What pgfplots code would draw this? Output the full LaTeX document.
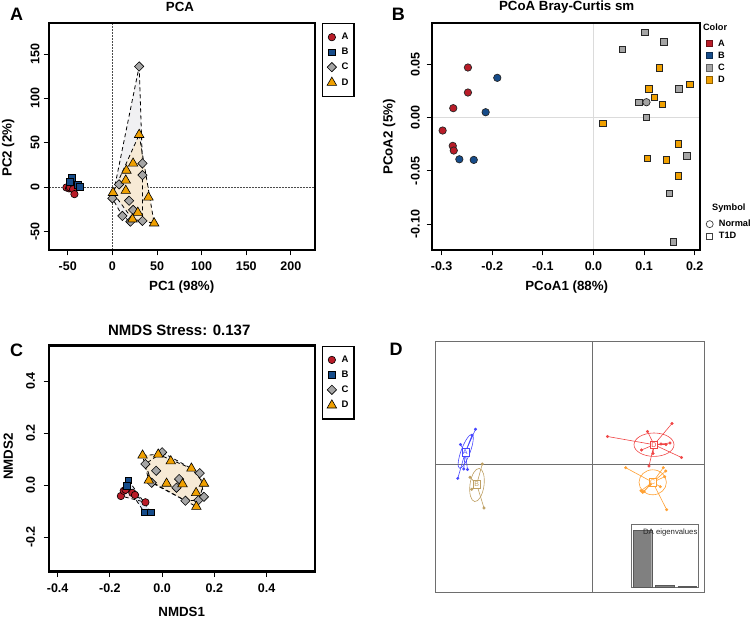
\documentclass[border=0pt]{standalone}
\usepackage{pgfplots}
\pgfplotsset{compat=1.18}
\usepackage{fontspec}
\setmainfont{Liberation Sans}
\definecolor{cA}{RGB}{185,28,40}
\definecolor{cB}{RGB}{22,76,138}
\definecolor{cC}{RGB}{165,165,165}
\definecolor{cD}{RGB}{240,160,0}
\definecolor{hC}{RGB}{240,240,242}
\definecolor{hD}{RGB}{248,234,210}
\definecolor{hA}{RGB}{248,228,228}
\definecolor{hB}{RGB}{225,232,242}
\definecolor{dA}{RGB}{70,70,255}
\definecolor{dB}{RGB}{190,160,100}
\definecolor{dD}{RGB}{240,70,70}
\definecolor{dC}{RGB}{255,160,50}
\definecolor{frm}{RGB}{110,110,110}
\newcommand\fs[1]{\fontsize{#1}{#1}\selectfont\bfseries}
\pgfplotsset{
 rax/.style={scale only axis, anchor=south west, clip=false,
   axis line style={draw=none},
   tick align=outside, tick pos=left, major tick length=5.5pt,
   tick style={black, line width=0.9pt},
   xticklabel style={font=\fs{12.5}, anchor=center, inner sep=0pt},
   yticklabel style={font=\fs{12.5}, rotate=90, anchor=center, inner sep=0pt},
   xticklabel shift=11.2pt,
   legend image code/.code={\draw[#1] plot coordinates {(5pt,0pt)};},
 },
 mA/.style={only marks, mark=*, mark size=3.7pt, mark options={fill=cA, draw=black, line width=0.6pt}},
 mB/.style={only marks, mark=square*, mark size=3.3pt, mark options={fill=cB, draw=black, line width=0.6pt}},
 mC/.style={only marks, mark=square*, mark size=3.3pt, mark options={rotate=45, fill=cC, draw=black, line width=0.6pt}},
 mD/.style={only marks, mark=triangle*, mark size=5.5pt, mark options={fill=cD, draw=black, line width=0.6pt}},
 hull/.style={black, line width=0.8pt, dash pattern=on 4pt off 3pt, forget plot},
 boxleg/.style={legend style={at={(1,1)}, anchor=north west, xshift=7pt, draw=black, line width=1.2pt, fill=white, font=\fs{9.5}, inner xsep=4.5pt, inner ysep=8.6pt, row sep=4.9pt, column sep=4pt, nodes={inner sep=1pt}}, legend cell align=left},
 colleg/.style={legend image code/.code={\draw[##1] plot coordinates {(3pt,0pt)};},
  legend style={at={(1,1)}, anchor=north west, xshift=6pt, draw=none, fill=none, font=\fs{9.2}, inner sep=0pt, row sep=3.2pt, column sep=5.2pt, nodes={inner sep=0.5pt}},
  legend cell align=left},
 sqk/.style={only marks, mark=square*, mark size=3.1pt, mark options={fill=#1, draw=#1!60!black, line width=0.7pt}},
}
\begin{document}
\begin{tikzpicture}[x=1pt,y=1pt]
\path[use as bounding box] (0,0) rectangle (753,618);

%%%%%%%%%%%%%%%% Panel A
\begin{axis}[rax, boxleg, at={(49pt,368pt)}, width=266pt, height=227pt,
  xmin=-71, xmax=227, ymin=-71, ymax=185,
  xtick={-50,0,50,100,150,200}, xticklabels={-50,0,50,100,150,200},
  ytick={-50,0,50,100,150}, yticklabels={-50,0,50,100,150},
  yticklabel shift=8.5pt]
\draw[densely dotted, black!70, line width=0.5pt] (axis cs:0,-71) -- (axis cs:0,185);
\draw[densely dotted, black!70, line width=0.5pt] (axis cs:-71,0) -- (axis cs:227,0);
\addplot[draw=none, fill=hA, forget plot] coordinates {(-51.5,-0.5)(-47.5,-0.5)(-44,-2.5)(-42.5,-8)(-51.5,-0.5)};
\addplot[draw=none, fill=hB, forget plot] coordinates {(-45.3,10.5)(-36.7,0.4)(-47.9,6)(-45.3,10.5)};
\addplot[draw=none, fill=hC, forget plot] coordinates {(30,136)(33.7,26.6)(33.7,-38.2)(20.2,-39)(11.2,-32.6)(0,-12.7)(30,136)};
\addplot[draw=none, fill=hD, fill opacity=0.9, forget plot] coordinates {(30,59)(46.8,-40.8)(22.5,-36.3)(0.7,-6.4)(30,59)};
\addplot[hull] coordinates {(30,136)(33.7,26.6)(33.7,-38.2)(20.2,-39)(11.2,-32.6)(0,-12.7)(30,136)};
\addplot[hull] coordinates {(30,59)(46.8,-40.8)(22.5,-36.3)(0.7,-6.4)(30,59)};
\addplot[mA] coordinates {(-51.5,-0.5)(-48.5,-1.5)(-45.5,-1.5)(-47.5,-0.5)(-44,-2.5)(-42.5,-8)};
\addlegendentry{A}
\addplot[mB] coordinates {(-45.3,10.5)(-47.9,6)(-38.5,2.2)(-36.7,0.4)};
\addlegendentry{B}
\addplot[mC] coordinates {(30,136)(33.7,26.6)(33.7,13.5)(7.5,3)(0,-12.7)(18.7,-15.4)(23.2,-25.8)(11.2,-32.6)(20.2,-39)(33.7,-38.2)};
\addlegendentry{C}
\addplot[mD] coordinates {(30,59)(23.2,26.6)(15.7,18.7)(15,7.5)(15,-4.1)(0.7,-6.4)(40.4,-11.6)(28.5,-28.8)(22.5,-36.3)(46.8,-40.8)};
\addlegendentry{D}
\draw[line width=2.6pt] (rel axis cs:0,0) rectangle (rel axis cs:1,1);
\end{axis}
\node[font=\fs{13.3}] at (180,610.7) {PCA};
\node[font=\fs{18}] at (16.7,604) {A};
\node[font=\fs{13.3}] at (181.7,331.3) {PC1 (98\%)};
\node[font=\fs{13.3}, rotate=90] at (8.3,470) {PC2 (2\%)};

%%%%%%%%%%%%%%%% Panel B
\begin{axis}[rax, colleg, at={(432pt,368pt)}, width=268pt, height=227pt,
  xmin=-0.319, xmax=0.2105, ymin=-0.1244, ymax=0.0888,
  xtick={-0.3,-0.2,-0.1,0,0.1,0.2}, xticklabels={-0.3,-0.2,-0.1,0.0,0.1,0.2},
  ytick={-0.1,-0.05,0,0.05}, yticklabels={-0.10,-0.05,0.00,0.05},
  yticklabel shift=11.2pt]
\draw[black!14, line width=1.2pt] (axis cs:0,-0.1244) -- (axis cs:0,0.0888);
\draw[black!14, line width=1.2pt] (axis cs:-0.319,0) -- (axis cs:0.2105,0);
\addlegendimage{empty legend}
\addlegendentry{\raisebox{3.7pt}{\hspace*{-15pt}Color}}
\addlegendimage{sqk=cA}
\addlegendentry{A}
\addlegendimage{sqk=cB}
\addlegendentry{B}
\addlegendimage{sqk=cC}
\addlegendentry{C}
\addlegendimage{sqk=cD}
\addlegendentry{D}
\addplot[forget plot, only marks, mark=*, mark size=3.7pt, mark options={fill=cA, draw=black!85, line width=0.7pt}] coordinates {(-0.248,0.047)(-0.248,0.0235)(-0.277,0.0088)(-0.298,-0.0122)(-0.278,-0.0266)(-0.276,-0.031)};
\addplot[forget plot, only marks, mark=*, mark size=3.7pt, mark options={fill=cB, draw=black!85, line width=0.7pt}] coordinates {(-0.190,0.0373)(-0.213,0.005)(-0.265,-0.0392)(-0.2365,-0.0398)};
\addplot[forget plot, only marks, mark=square*, mark size=3.3pt, mark options={fill=cC, draw=black!85, line width=0.7pt}] coordinates {(0.102,0.0802)(0.139,0.0711)(0.0567,0.0642)(0.1686,0.0269)(0.0896,0.0144)(0.1047,0.0)(0.185,-0.036)(0.150,-0.0711)(0.158,-0.1165)};
\addplot[forget plot, only marks, mark=square*, mark size=3.3pt, mark options={fill=cD, draw=black!85, line width=0.7pt}] coordinates {(0.130,0.0464)(0.190,0.0313)(0.110,0.0269)(0.1206,0.0188)(0.136,0.0125)(0.0184,-0.0053)(0.168,-0.0247)(0.1067,-0.0382)(0.1443,-0.0398)(0.168,-0.0548)};
\addplot[forget plot, only marks, mark=*, mark size=3.7pt, mark options={fill=cC, draw=black!85, line width=0.7pt}] coordinates {(0.1047,0.0144)};
\draw[line width=2.6pt] (rel axis cs:0,0) rectangle (rel axis cs:1,1);
\end{axis}
\begin{axis}[colleg, scale only axis, anchor=south west, at={(432pt,368pt)}, width=268pt, height=227pt,
  hide axis, xmin=0, xmax=1, ymin=0, ymax=1,
  legend style={yshift=-180.5pt}]
\addlegendimage{empty legend}
\addlegendentry{\raisebox{3.5pt}{\hspace*{-6.7pt}Symbol}}
\addlegendimage{only marks, mark=o, mark size=3.5pt, mark options={draw=black!75, line width=0.7pt}}
\addlegendentry{Normal}
\addlegendimage{only marks, mark=square, mark size=3.1pt, mark options={draw=black!75, line width=0.7pt}}
\addlegendentry{T1D}
\end{axis}
\node[font=\fs{13.3}] at (566.7,610.7) {PCoA Bray-Curtis sm};
\node[font=\fs{18}] at (398.3,604) {B};
\node[font=\fs{13.3}] at (566.7,331.3) {PCoA1 (88\%)};
\node[font=\fs{13.3}, rotate=90] at (389.3,481) {PCoA2 (5\%)};

%%%%%%%%%%%%%%%% Panel C
\begin{axis}[rax, boxleg, at={(49pt,46.3pt)}, width=266pt, height=226pt,
  xmin=-0.433, xmax=0.585, ymin=-0.333, ymax=0.536,
  xtick={-0.4,-0.2,0,0.2,0.4}, xticklabels={-0.4,-0.2,0.0,0.2,0.4},
  ytick={-0.2,0,0.2,0.4}, yticklabels={-0.2,0.0,0.2,0.4},
  yticklabel shift=13pt]
\addplot[draw=none, fill=hA, forget plot] coordinates {(-0.158,-0.042)(-0.147,-0.022)(-0.14,-0.018)(-0.114,-0.030)(-0.064,-0.066)(-0.158,-0.042)};
\addplot[draw=none, fill=hB, forget plot] coordinates {(-0.129,0.019)(-0.043,-0.104)(-0.069,-0.104)(-0.135,-0.003)(-0.129,0.019)};
\addplot[draw=none, fill=hC, forget plot] coordinates {(0,0.126)(0.144,0.046)(0.160,-0.045)(0.139,-0.058)(0.089,-0.060)(-0.040,0.009)(-0.064,0.081)(0,0.126)};
\addplot[draw=none, fill=hD, fill opacity=0.9, forget plot] coordinates {(-0.075,0.114)(-0.015,0.118)(0.112,0.064)(0.160,0.006)(0.131,-0.083)(-0.051,0.018)(-0.075,0.114)};
\addplot[hull] coordinates {(-0.158,-0.042)(-0.147,-0.022)(-0.14,-0.018)(-0.114,-0.030)(-0.064,-0.066)(-0.158,-0.042)};
\addplot[hull] coordinates {(-0.129,0.019)(-0.043,-0.104)(-0.069,-0.104)(-0.135,-0.003)(-0.129,0.019)};
\addplot[hull] coordinates {(0,0.126)(0.144,0.046)(0.160,-0.045)(0.139,-0.058)(0.089,-0.060)(-0.040,0.009)(-0.064,0.081)(0,0.126)};
\addplot[hull] coordinates {(-0.075,0.114)(-0.015,0.118)(0.112,0.064)(0.160,0.006)(0.131,-0.083)(-0.051,0.018)(-0.075,0.114)};
\addplot[mA] coordinates {(-0.158,-0.042)(-0.147,-0.022)(-0.14,-0.018)(-0.114,-0.030)(-0.104,-0.038)(-0.064,-0.066)};
\addlegendentry{A}
\addplot[mB] coordinates {(-0.129,0.019)(-0.135,-0.003)(-0.069,-0.104)(-0.043,-0.104)};
\addlegendentry{B}
\addplot[mC] coordinates {(0,0.126)(-0.064,0.081)(-0.023,0.055)(-0.040,0.009)(0.065,0.023)(0.055,-0.010)(0.089,-0.060)(0.144,0.046)(0.139,-0.058)(0.160,-0.045)};
\addlegendentry{C}
\addplot[mD] coordinates {(-0.075,0.114)(-0.015,0.118)(0.033,0.092)(-0.051,0.018)(0.017,0.006)(0.078,0.004)(0.112,0.064)(0.160,0.006)(0.130,-0.030)(0.131,-0.083)};
\addlegendentry{D}
\draw[line width=2.6pt] (rel axis cs:0,0) rectangle (rel axis cs:1,1);
\end{axis}
\node[font=\fs{15}] at (179.3,288) {NMDS Stress: 0.137};
\node[font=\fs{18}] at (16.7,268) {C};
\node[font=\fs{13.3}] at (181.7,6.3) {NMDS1};
\node[font=\fs{13.3}, rotate=90] at (8.3,161.3) {NMDS2};

%%%%%%%%%%%%%%%% Panel D
\begin{axis}[scale only axis, anchor=south west, at={(435.7pt,25.3pt)}, width=268.6pt, height=251.7pt,
  xmin=-156.6, xmax=112, ymin=-128.7, ymax=123, xtick=\empty, ytick=\empty,
  axis line style={frm, line width=0.9pt}, clip=false]
\draw[frm, line width=0.9pt] (axis cs:0,-128.7) -- (axis cs:0,123);
\draw[frm, line width=0.9pt] (axis cs:-156.6,0) -- (axis cs:112,0);
% group A
\addplot[dA, line width=0.6pt] coordinates {(-127,11.7)(-116.8,34.7)(-127,11.7)(-120.3,28.8)(-127,11.7)(-131.8,19.5)(-127,11.7)(-134.5,-14.3)(-127,11.7)(-124.8,-5.5)(-127,11.7)(-128.5,-5)};
\addplot[dA, only marks, mark=*, mark size=1.3pt] coordinates {(-116.8,34.7)(-120.3,28.8)(-131.8,19.5)(-134.5,-14.3)(-124.8,-5.5)(-128.5,-5)};
\draw[dA, line width=0.6pt] (axis cs:-126.6,12.7) ellipse [x radius=18pt, y radius=4.5pt, rotate=69.5];
% group B
\addplot[dB, line width=0.6pt] coordinates {(-115.6,-20.3)(-110,0)(-115.6,-20.3)(-122.3,-13.3)(-115.6,-20.3)(-120.6,-25.3)(-115.6,-20.3)(-108.3,-44)};
\addplot[dB, only marks, mark=*, mark size=1.3pt] coordinates {(-110,0)(-122.3,-13.3)(-120.6,-25.3)(-108.3,-44)};
\draw[dB, line width=0.6pt] (axis cs:-115.3,-21) ellipse [x radius=16.7pt, y radius=7pt, rotate=82];
% group D
\addplot[dD, line width=0.6pt] coordinates {(61.7,19.3)(15.2,27.5)(61.7,19.3)(55.2,32.5)(61.7,19.3)(79.7,40.5)(61.7,19.3)(73.7,19.5)(61.7,19.3)(77.7,21)(61.7,19.3)(68.7,20)(61.7,19.3)(49.2,14)(61.7,19.3)(60.7,10.5)(61.7,19.3)(89.2,6.5)(61.7,19.3)(56.7,-2)};
\addplot[dD, only marks, mark=*, mark size=1.3pt] coordinates {(15.2,27.5)(55.2,32.5)(79.7,40.5)(73.7,19.5)(77.7,21)(68.7,20)(49.2,14)(60.7,10.5)(89.2,6.5)(56.7,-2)};
\draw[dD, line width=0.6pt] (axis cs:61.7,19.3) ellipse [x radius=20pt, y radius=11.7pt];
% group C
\addplot[dC, line width=0.6pt] coordinates {(60.4,-18.3)(33.4,-3.7)(60.4,-18.3)(71,-3.7)(60.4,-18.3)(73.4,-7)(60.4,-18.3)(72.4,-12.7)(60.4,-18.3)(68,-22.7)(60.4,-18.3)(48.7,-26.7)(60.4,-18.3)(50.4,-28.3)(60.4,-18.3)(51.7,-27.5)(60.4,-18.3)(74.4,-45.7)};
\addplot[dC, only marks, mark=*, mark size=1.3pt] coordinates {(33.4,-3.7)(71,-3.7)(73.4,-7)(72.4,-12.7)(68,-22.7)(48.7,-26.7)(50.4,-28.3)(51.7,-27.5)(74.4,-45.7)(58,-20.5)};
\draw[dC, line width=0.6pt] (axis cs:60.4,-18.3) ellipse [x radius=13.7pt, y radius=12.5pt];
\node[draw=dA, fill=white, text=dA, font=\fontsize{7}{7}\selectfont, inner sep=1.2pt, line width=0.5pt] at (axis cs:-127,11.7) {A};
\node[draw=dB, fill=white, text=dB, font=\fontsize{7}{7}\selectfont, inner sep=1.2pt, line width=0.5pt] at (axis cs:-115.6,-20.3) {B};
\node[draw=dD, fill=white, text=dD, font=\fontsize{7}{7}\selectfont, inner sep=1.2pt, line width=0.5pt] at (axis cs:61.7,19.3) {D};
\node[draw=dC, fill=white, text=dC, font=\fontsize{7}{7}\selectfont, inner sep=1.2pt, line width=0.5pt] at (axis cs:60.4,-18.3) {C};
\end{axis}
\begin{axis}[scale only axis, anchor=south west, at={(631pt,30.7pt)}, width=67.3pt, height=63.3pt,
  ybar, bar width=18.4pt, xmin=0.484, xmax=3.5, ymin=0, ymax=111.6,
  xtick=\empty, ytick=\empty, axis line style={frm, line width=0.6pt},
  axis background/.style={fill=white}, clip=false]
\addplot[fill=black!50, draw=black!65, line width=0.4pt] coordinates {(1,100)(2,3)(3,1.2)};
\node[anchor=north east, font=\fontsize{7.75}{8}\selectfont, text=black!85, inner sep=0pt] at (rel axis cs:0.99,0.93) {DA eigenvalues};
\end{axis}
\node[font=\fs{18}] at (396,269) {D};
\end{tikzpicture}
\end{document}
